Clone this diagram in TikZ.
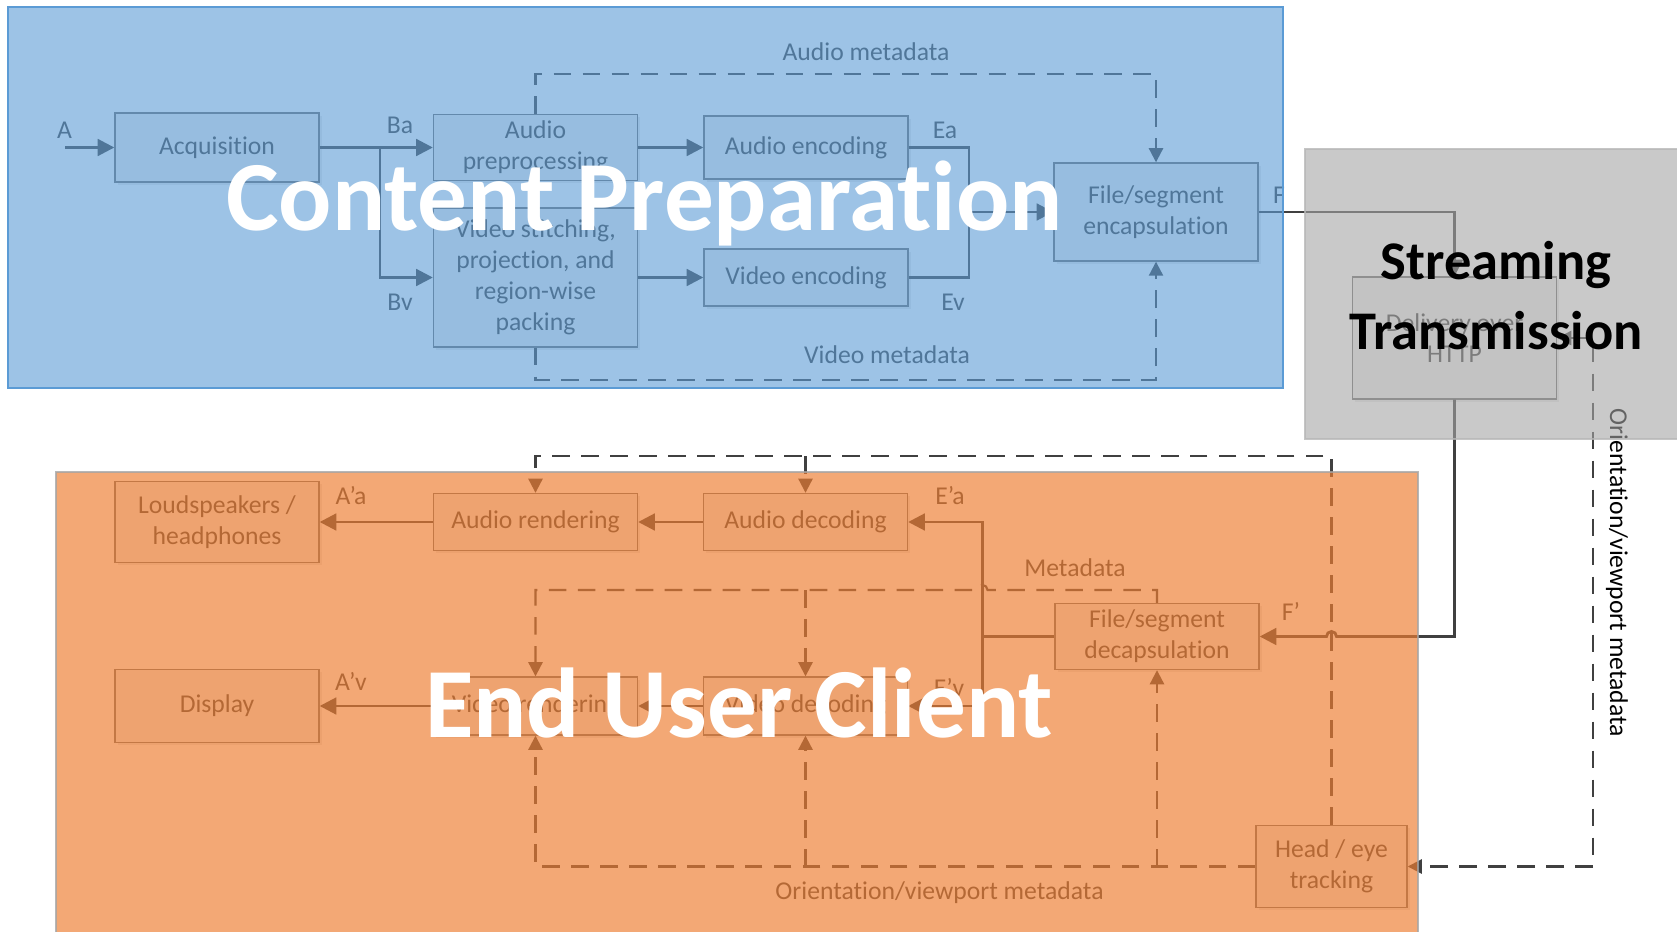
\documentclass[tikz,border=0pt]{standalone}
\usepackage{fontspec}
\setmainfont{Carlito}[Ligatures={NoCommon}]
\usetikzlibrary{arrows.meta, positioning, calc, shadows}
\definecolor{Ink}{HTML}{404040}
\definecolor{BoxEdge}{HTML}{6F6F6F}
\definecolor{BoxFill}{HTML}{F2F2F2}
\definecolor{PrepBlue}{HTML}{5B9BD5}
\definecolor{ClientOrange}{HTML}{ED7D31}
\definecolor{StreamGray}{HTML}{A5A5A5}

\begin{document}
\begin{tikzpicture}[x=0.02cm, y=-0.02cm,
    blk/.style={rectangle, draw=BoxEdge, line width=0.8pt, fill=BoxFill, text=Ink,
                align=center, font=\fontsize{14.6}{17.6}\selectfont,
                minimum width=4.08cm, inner sep=2pt,
                drop shadow={shadow xshift=1.5pt, shadow yshift=-1.5pt, opacity=0.15}},
    lbl/.style={text=Ink, font=\fontsize{14.6}{17.6}\selectfont, inner sep=0pt},
    flow/.style={draw=Ink, line width=1.6pt},
    arr/.style={flow, -{Triangle[length=9.5pt, width=9.5pt]}},
    mline/.style={draw=Ink, line width=1.2pt, dash pattern=on 10pt off 6.5pt},
    marr/.style={mline, -{Triangle[length=8pt, width=8pt]}},
    mboth/.style={mline, {Triangle[length=8pt, width=8pt]}-{Triangle[length=8pt, width=8pt]}},
    panel/.style={line width=0.8pt},
    title/.style={font=\fontsize{56.5}{60}\selectfont\bfseries, text=white, inner sep=0pt},
]
\useasboundingbox (0,0) rectangle (1677,932);

% Content preparation chain
\node[blk, minimum height=1.38cm] (acq) at (217,147.5) {Acquisition};
\node[blk, minimum height=1.32cm] (apre) at (535.5,147.5) {Audio\\preprocessing};
\node[blk, minimum height=2.78cm] (vpre) at (535.5,277.5) {Video stitching,\\projection, and\\region-wise\\packing};
\node[blk, minimum height=1.26cm] (aenc) at (806,147.5) {Audio encoding};
\node[blk, minimum height=1.14cm] (venc) at (806,277.5) {Video encoding};
\node[blk, minimum height=1.96cm] (encap) at (1156,212) {File/segment\\encapsulation};

% Delivery
\node[blk, minimum height=2.44cm] (deliv) at (1454.5,338) {Delivery over\\HTTP};

% Client chain
\node[blk, minimum height=1.62cm] (spk) at (217,522) {Loudspeakers /\\headphones};
\node[blk, minimum height=1.14cm] (arend) at (535.5,522) {Audio rendering};
\node[blk, minimum height=1.14cm] (adec) at (805.5,522) {Audio decoding};
\node[blk, minimum height=1.32cm] (decap) at (1157,636.5) {File/segment\\decapsulation};
\node[blk, minimum height=1.46cm] (disp) at (217,706) {Display};
\node[blk, minimum height=1.16cm] (vrend) at (535.5,706) {Video rendering};
\node[blk, minimum height=1.16cm] (vdec) at (805.5,706) {Video decoding};
\node[blk, minimum width=3.02cm, minimum height=1.64cm] (track) at (1331.5,866.5) {Head / eye\\tracking};

% Junctions
\coordinate (ain) at (65,147.5);
\coordinate (split) at (380,147.5);
\coordinate (merge) at (969,212);
\coordinate (amtop) at (535.5,74);
\coordinate (vmbot) at (535.5,380);
\coordinate (hopF) at (1331.5,636.5);
\coordinate (jd) at (982.5,636.5);
\coordinate (hopM) at (982.5,590);
\coordinate (toprail) at (1331.5,456);
\coordinate (orx) at (1593,866.5);

% Preparation flows
\draw[arr] (ain) -- (acq.west);
\draw[arr] (acq.east) -- (apre.west);
\draw[arr] (split) |- (vpre.west);
\draw[arr] (apre.east) -- (aenc.west);
\draw[arr] (vpre.east) -- (venc.west);
\draw[flow] (aenc.east) -| (merge) |- (venc.east);
\draw[arr] (merge) -- (encap.west);
\draw[marr] (apre.north) -- (amtop) -| (encap.north);
\draw[marr] (vpre.south) -- (vmbot) -| (encap.south);
\draw[arr] (encap.east) -| (deliv.north);

% Client flows
\draw[arr] (deliv.south) |- ($(hopF)+(5,0)$) arc[start angle=0, end angle=180, radius=2.85pt] -- (decap.east);
\draw[flow] (decap.west) -- (jd);
\draw[arr] (jd) |- (adec.east);
\draw[arr] (jd) |- (vdec.east);
\draw[arr] (adec.west) -- (arend.east);
\draw[arr] (arend.west) -- (spk.east);
\draw[arr] (vdec.west) -- (vrend.east);
\draw[arr] (vrend.west) -- (disp.east);
\draw[marr] (decap.north) |- ($(hopM)+(5,0)$) arc[start angle=0, end angle=180, radius=2.85pt] -| (vrend.north);
\draw[marr] (vdec.north |- hopM) -- (vdec.north);
\draw[marr] (track.north) -- (toprail) -| (arend.north);
\draw[marr] (adec.north |- toprail) -- (adec.north);
\draw[marr] (track.west) -| (vrend.south);
\draw[marr] (vdec.south |- track.west) -- (vdec.south);
\draw[marr] (decap.south |- track.west) -- (decap.south);
\draw[mboth] (deliv.east) -| (orx) -- (track.east);

% Labels
\node[lbl] (lA) at (64.5,130) {A};
\node[lbl] (lBa) at (400,125) {Ba};
\node[lbl] (lBv) at (400,302) {Bv};
\node[lbl] (lEa) at (945,130) {Ea};
\node[lbl] (lEv) at (953,302) {Ev};
\node[lbl] (lF) at (1279,195) {F};
\node[lbl] (lam) at (866,52) {Audio metadata};
\node[lbl] (lvm) at (887,355) {Video metadata};
\node[lbl] (lAa) at (351,496) {A’a};
\node[lbl] (lAv) at (351,681) {A’v};
\node[lbl] (lEpa) at (950,496) {E’a};
\node[lbl] (lEpv) at (949,687) {E’v};
\node[lbl] (lFp) at (1291,611) {F’};
\node[lbl] (lmd) at (1075,568) {Metadata};
\node[lbl] (lom) at (939.5,893) {Orientation/viewport metadata};
\node[lbl, text=black, rotate=-90] (lov) at (1617,573) {Orientation/viewport metadata};

% Stage panels
\path[panel, fill=PrepBlue, fill opacity=0.6, draw=PrepBlue] (8,7) rectangle (1283,388);
\path[panel, fill=StreamGray, fill opacity=0.6, draw=StreamGray!80, draw opacity=0.8] (1305,149) rectangle (1690,439);
\path[panel, fill=ClientOrange, fill opacity=0.67, draw=StreamGray, draw opacity=0.8] (56,472) rectangle (1418,940);

% Stage titles
\node[title, anchor=base] (tprep) at (644.5,231) {Content Preparation};
\node[title, anchor=base] (tclient) at (739,737) {End User Client};
\node[font=\fontsize{31}{40}\selectfont\bfseries, text=black, align=center, inner sep=0pt] (tstream) at (1496,295.5) {Streaming\\Transmission};
\end{tikzpicture}
\end{document}
